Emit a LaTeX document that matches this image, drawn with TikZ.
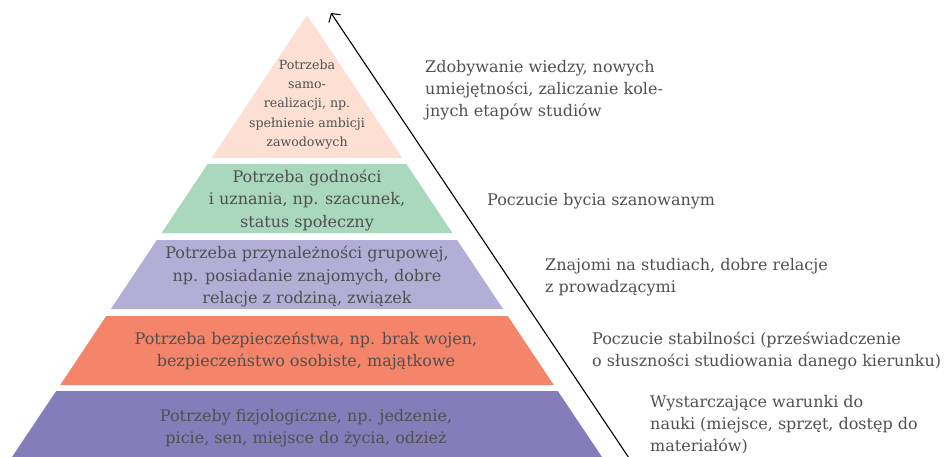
\documentclass[tikz,border=0pt]{standalone}
\usepackage{fontspec}
\setmainfont{DejaVu Serif}
\usetikzlibrary{arrows.meta}
\definecolor{peachlayer}{RGB}{253,224,211}
\definecolor{greenlayer}{RGB}{170,216,188}
\definecolor{lilaclayer}{RGB}{179,174,214}
\definecolor{orangelayer}{RGB}{244,133,106}
\definecolor{purplelayer}{RGB}{133,125,185}
\definecolor{textgray}{RGB}{80,80,80}

\begin{document}
\begin{tikzpicture}[x=1pt, y=-1pt, >={Straight Barb[length=6pt, width=14pt]},
    layertext/.style={text=textgray, align=center, inner sep=0pt, font=\fontsize{16}{22.5}\selectfont},
    sidetext/.style={text=textgray, align=left, anchor=west, inner sep=0pt, font=\fontsize{16}{22}\selectfont}]
    \useasboundingbox (0,0) rectangle (951,456);
    % pyramid layers
    \fill[peachlayer] (307,15) -- (402.4,158) -- (211.6,158) -- cycle;
    \fill[greenlayer] (207.6,164) -- (406.4,164) -- (452.4,233) -- (161.6,233) -- cycle;
    \fill[lilaclayer] (156.9,240) -- (457.1,240) -- (503.1,309) -- (110.9,309) -- cycle;
    \fill[orangelayer] (106.2,316) -- (507.8,316) -- (553.8,385) -- (60.2,385) -- cycle;
    \fill[purplelayer] (56.2,391) -- (557.8,391) -- (602,457) -- (12,457) -- cycle;
    % texts inside
    \node[layertext, font=\fontsize{12.6}{19.2}\selectfont] (selfreal) at (307,104.5) {Potrzeba\\samo-\\realizacji, np.\\spełnienie ambicji\\zawodowych};
    \node[layertext] (esteem) at (307,200.5) {Potrzeba godności\\i uznania, np. szacunek,\\status społeczny};
    \node[layertext] (belonging) at (307,277) {Potrzeba przynależności grupowej,\\np. posiadanie znajomych, dobre\\relacje z rodziną, związek};
    \node[layertext] (safety) at (306,351) {Potrzeba bezpieczeństwa, np. brak wojen,\\bezpieczeństwo osobiste, majątkowe};
    \node[layertext] (physio) at (306,428) {Potrzeby fizjologiczne, np. jedzenie,\\picie, sen, miejsce do życia, odzież};
    % texts on the right
    \node[sidetext] (knowledge) at (425,90) {Zdobywanie wiedzy, nowych\\umiejętności, zaliczanie kole-\\jnych etapów studiów};
    \node[sidetext] (respect) at (487,201) {Poczucie bycia szanowanym};
    \node[sidetext] (friends) at (545,277.5) {Znajomi na studiach, dobre relacje\\z prowadzącymi};
    \node[sidetext] (stability) at (592,351) {Poczucie stabilności (przeświadczenie\\o słuszności studiowania danego kierunku)};
    \node[sidetext] (conditions) at (650,425) {Wystarczające warunki do\\nauki (miejsce, sprzęt, dostęp do\\materiałów)};
    % arrow
    \coordinate (arrowfoot) at (629,458);
    \coordinate (arrowtip) at (331,13);
    \draw[->, line width=1.1pt] (arrowfoot) -- (arrowtip);
\end{tikzpicture}
\end{document}
